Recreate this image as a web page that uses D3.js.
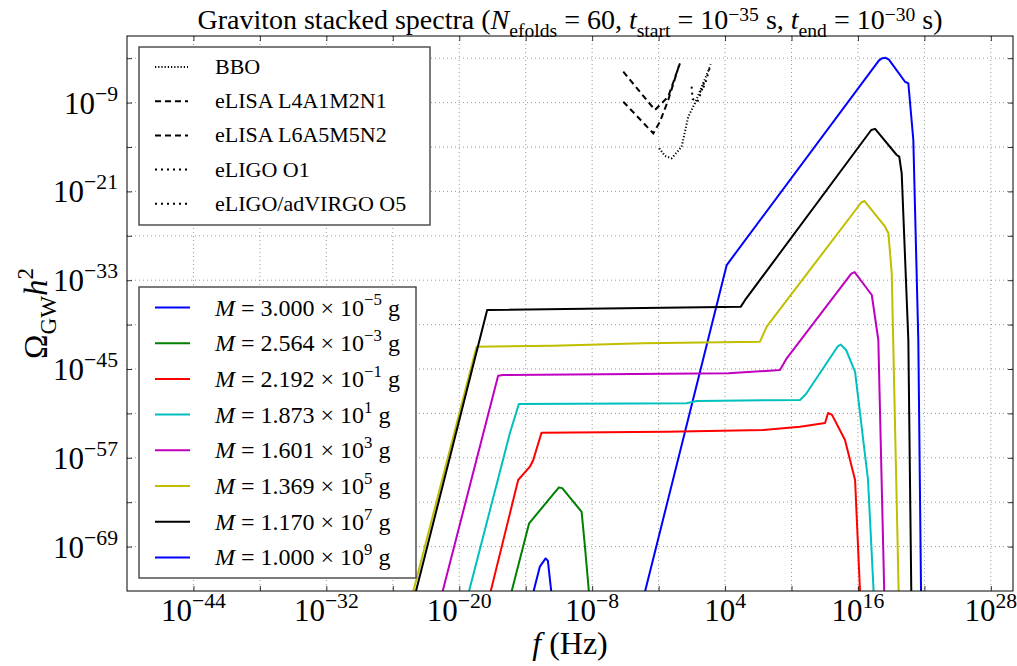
<!DOCTYPE html>
<html>
<head>
<meta charset="utf-8">
<script src="https://cdn.jsdelivr.net/npm/d3@7"></script>
<style>
  body { margin: 0; background: #fff; }
  text { font-family: "Liberation Serif", "DejaVu Serif", serif; fill: #000; white-space: pre; }
</style>
</head>
<body>
<svg id="chart" width="1017" height="666"></svg>
<script>
// tick exponents (log10)
var xTickExps = [-44, -38, -32, -26, -20, -14, -8, -2, 4, 10, 16, 22, 28]
var xLabelExps = [-44, -32, -20, -8, 4, 16, 28]
var yTickExps = [-3, -9, -15, -21, -27, -33, -39, -45, -51, -57, -63, -69]
var yLabelExps = [-9, -21, -33, -45, -57, -69]

// spectra, points are [log10 f, log10 Omega h^2]
var spec3e_5 = [[-3.23, -75.1], [4.15, -30.95], [17.9, -3.3], [18.2, -3.0], [18.5, -2.95], [18.8, -3.2], [20.25, -6.18], [20.55, -6.39], [21.0, -14.05], [21.45, -41.1], [21.7, -75.5]]
var spec2_564e_3 = [[-15.28, -75.1], [-13.69, -65.85], [-11.0, -61.0], [-10.7, -61.1], [-8.95, -64.3], [-8.65, -69.0], [-8.27, -75.5]]
var spec2_192e_1 = [[-17.17, -75.1], [-14.68, -60.0], [-13.62, -58.2], [-13.32, -57.3], [-12.57, -53.6], [-1.27, -53.47], [7.45, -53.24], [10.77, -52.8], [13.03, -52.3], [13.3, -50.95], [13.66, -51.2], [14.83, -54.6], [15.74, -60.0], [16.2, -75.5]]
var spec1_873e1 = [[-19.13, -75.1], [-15.43, -53.69], [-14.62, -49.73], [0.53, -49.64], [1.44, -49.32], [10.77, -49.19], [11.31, -48.38], [14.2, -41.9], [14.45, -41.7], [14.93, -42.43], [15.74, -45.4], [16.91, -60.0], [17.43, -75.5]]
var spec1_601e3 = [[-21.51, -75.1], [-16.49, -45.9], [-16.04, -45.81], [4.29, -45.58], [8.96, -45.14], [9.57, -43.55], [15.4, -32.1], [15.7, -31.9], [17.25, -35.0], [17.84, -41.08], [18.38, -75.5]]
var spec1_369e5 = [[-24.16, -75.1], [-18.44, -41.99], [-11.52, -41.85], [-3.39, -41.53], [7.15, -41.31], [7.76, -39.28], [16.3, -22.5], [16.6, -22.3], [18.45, -25.77], [18.75, -26.66], [19.05, -32.07], [19.68, -75.5]]
var spec1_170e7 = [[-23.92, -75.1], [-17.48, -37.03], [5.41, -36.6], [5.8, -35.7], [17.2, -12.7], [17.55, -12.55], [19.5, -16.08], [19.73, -16.3], [19.95, -18.55], [20.55, -41.08], [20.82, -75.5]]
var spec1e9 = [[-13.3, -75.1], [-12.72, -71.7], [-12.2, -70.6], [-12.0, -70.9], [-11.66, -75.5]]

var specList = [spec3e_5, spec2_564e_3, spec2_192e_1, spec1_873e1, spec1_601e3, spec1_369e5, spec1_170e7, spec1e9]
var specColors = ['#0000ff', '#008000', '#ff0000', '#00bfbf', '#bf00bf', '#bfbf00', '#000000', '#0000ff']
var massMant = ['3.000', '2.564', '2.192', '1.873', '1.601', '1.369', '1.170', '1.000']
var massExps = ['\u22125', '\u22123', '\u22121', '1', '3', '5', '7', '9']

// detector sensitivity curves
var bbo = [[-1.94, -15.18], [-1.43, -16.2], [-0.82, -16.53], [0.08, -14.96], [0.68, -10.9], [1.28, -9.09], [2.64, -4.15]]
var elisaL4 = [[-5.19, -4.82], [-2.33, -10.0], [-1.88, -9.32], [-1.13, -8.2], [-0.07, -3.69]]
var elisaL6 = [[-5.19, -8.88], [-2.48, -13.15], [-1.88, -11.58], [-1.13, -8.65], [-0.14, -3.92]]
var eligoO1 = [[0.98, -6.85], [1.07, -8.5], [1.5, -8.9], [1.85, -7.6], [2.2, -5.8]]
var eligoO5 = [[1.7, -7.6], [1.95, -7.2], [2.2, -6.5], [2.5, -4.9], [2.7, -3.8]]
var detList = [bbo, elisaL4, elisaL6, eligoO1, eligoO5]
var detNames = ['BBO', 'eLISA L4A1M2N1', 'eLISA L6A5M5N2', 'eLIGO O1', 'eLIGO/adVIRGO O5']
var detDash = ['1.2,2', '6,4', '6,4', '2,4', '2,4']

var margin = {left: 127, right: 1013, top: 36, bottom: 591}

var x = d3.scaleLog().domain([1e-50, 1e30]).range([margin.left, margin.right])
var y = d3.scaleLog().domain([1e-75, 1]).range([margin.bottom, margin.top])

var svg = d3.select('#chart')

function rich(sel, parts, fs, supUp) {
  var cur = 0
  var up = supUp || 0.42
  parts.forEach(function(p) {
    var k = p[1]
    var target = (k == 'sub') ? fs * 0.28 : (k == 'sup') ? -fs * up : 0
    var ts = sel.append('tspan').text(p[0]).attr('dy', target - cur)
    cur = target
    if (k == 'i') ts.style('font-style', 'italic')
    if (k == 'sub' || k == 'sup') ts.attr('font-size', fs * 0.7)
  })
}

svg.append('clipPath').attr('id', 'clip')
  .append('rect')
  .attr('x', margin.left).attr('y', margin.top)
  .attr('width', margin.right - margin.left).attr('height', margin.bottom - margin.top)

// grid
var grid = svg.append('g')
grid.selectAll('line.gx').data(xTickExps).enter().append('line')
  .attr('x1', function(d) { return x(Math.pow(10, d)) })
  .attr('x2', function(d) { return x(Math.pow(10, d)) })
  .attr('y1', margin.top).attr('y2', margin.bottom)
grid.selectAll('line.gy').data(yTickExps).enter().append('line')
  .attr('y1', function(d) { return y(Math.pow(10, d)) })
  .attr('y2', function(d) { return y(Math.pow(10, d)) })
  .attr('x1', margin.left).attr('x2', margin.right)
grid.selectAll('line')
  .attr('stroke', '#000').attr('stroke-opacity', 0.5)
  .attr('stroke-width', 0.8).attr('stroke-dasharray', '1,3')

// ticks on all four sides, pointing in
var tv = xTickExps.map(function(d) { return Math.pow(10, d) })
var tvy = yTickExps.map(function(d) { return Math.pow(10, d) })
svg.append('g').attr('transform', 'translate(0,' + margin.bottom + ')')
  .call(d3.axisBottom(x).tickValues(tv).tickSize(-5).tickFormat(''))
svg.append('g').attr('transform', 'translate(0,' + margin.top + ')')
  .call(d3.axisTop(x).tickValues(tv).tickSize(-5).tickFormat(''))
svg.append('g').attr('transform', 'translate(' + margin.left + ',0)')
  .call(d3.axisLeft(y).tickValues(tvy).tickSize(-5).tickFormat(''))
svg.append('g').attr('transform', 'translate(' + margin.right + ',0)')
  .call(d3.axisRight(y).tickValues(tvy).tickSize(-5).tickFormat(''))
svg.selectAll('.domain').remove()
svg.selectAll('.tick line').attr('stroke', '#000').attr('stroke-width', 0.8)

// tick labels
xLabelExps.forEach(function(e) {
  var t = svg.append('text').attr('x', x(Math.pow(10, e))).attr('y', 621)
    .attr('text-anchor', 'middle').attr('font-size', 31)
  rich(t, [['10', 'n'], [String(e).replace('-', '\u2212'), 'sup']], 31)
})
yLabelExps.forEach(function(e) {
  var t = svg.append('text').attr('x', 118).attr('y', y(Math.pow(10, e)) + 11)
    .attr('text-anchor', 'end').attr('font-size', 31)
  rich(t, [['10', 'n'], [String(e).replace('-', '\u2212'), 'sup']], 31)
})

// curves
var line = d3.line()
  .x(function(d) { return x(Math.pow(10, d[0])) })
  .y(function(d) { return y(Math.pow(10, d[1])) })

var plot = svg.append('g').attr('clip-path', 'url(#clip)')
plot.selectAll('path.spec').data(specList).enter().append('path')
  .attr('class', 'spec')
  .attr('d', line)
  .attr('fill', 'none')
  .attr('stroke', function(d, i) { return specColors[i] })
  .attr('stroke-width', 2)
  .attr('stroke-linejoin', 'round')

plot.selectAll('path.det').data(detList).enter().append('path')
  .attr('class', 'det')
  .attr('d', line)
  .attr('fill', 'none')
  .attr('stroke', '#000')
  .attr('stroke-width', 2)
  .attr('stroke-dasharray', function(d, i) { return detDash[i] })

// frame
svg.append('rect')
  .attr('x', margin.left).attr('y', margin.top)
  .attr('width', margin.right - margin.left).attr('height', margin.bottom - margin.top)
  .attr('fill', 'none').attr('stroke', '#000').attr('stroke-width', 1)

// detector legend
var leg1 = svg.append('g')
leg1.append('rect').attr('x', 139).attr('y', 47).attr('width', 291).attr('height', 178)
  .attr('fill', '#fff').attr('stroke', '#444').attr('stroke-width', 1.4)
detNames.forEach(function(n, i) {
  var yy = 67 + i * 34.2
  leg1.append('line').attr('x1', 155).attr('x2', 188).attr('y1', yy).attr('y2', yy)
    .attr('stroke', '#000').attr('stroke-width', 2).attr('stroke-dasharray', detDash[i])
  leg1.append('text').attr('x', 215).attr('y', yy + 7).attr('font-size', 22).text(n)
})

// mass legend
var leg2 = svg.append('g')
leg2.append('rect').attr('x', 139).attr('y', 287).attr('width', 277).attr('height', 291)
  .attr('fill', '#fff').attr('stroke', '#444').attr('stroke-width', 1.4)
massMant.forEach(function(m, i) {
  var yy = 307.5 + i * 35.7
  leg2.append('line').attr('x1', 155).attr('x2', 190).attr('y1', yy).attr('y2', yy)
    .attr('stroke', specColors[i]).attr('stroke-width', 2)
  var t = leg2.append('text').attr('x', 215).attr('y', yy + 8).attr('font-size', 24)
  rich(t, [['M', 'i'], [' = ' + m + ' \u00d7 10', 'n'], [massExps[i], 'sup'], [' g', 'n']], 24)
})

// title
var title = svg.append('text').attr('x', 570).attr('y', 29)
  .attr('text-anchor', 'middle').attr('font-size', 28)
rich(title, [['Graviton stacked spectra (', 'n'], ['N', 'i'], ['efolds', 'sub'], [' = 60, ', 'n'],
  ['t', 'i'], ['start', 'sub'], [' = 10', 'n'], ['\u221235', 'sup'], [' s, ', 'n'],
  ['t', 'i'], ['end', 'sub'], [' = 10', 'n'], ['\u221230', 'sup'], [' s)', 'n']], 28, 0.3)

// axis labels
var xl = svg.append('text').attr('x', 570).attr('y', 654)
  .attr('text-anchor', 'middle').attr('font-size', 32)
rich(xl, [['f', 'i'], [' (Hz)', 'n']], 32)

var yl = svg.append('text').attr('transform', 'translate(47,' + ((margin.top + margin.bottom) / 2) + ') rotate(-90)')
  .attr('text-anchor', 'middle').attr('font-size', 33)
rich(yl, [['\u03a9', 'n'], ['GW', 'sub'], ['h', 'i'], ['2', 'sup']], 33)
</script>
</body>
</html>
